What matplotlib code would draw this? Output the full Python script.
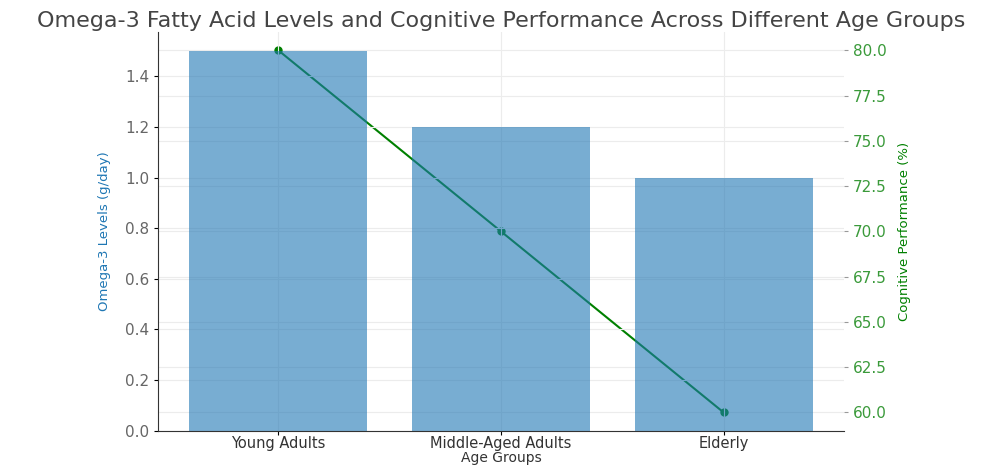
import matplotlib.pyplot as plt
import numpy as np

age_groups = ['Young Adults', 'Middle-Aged Adults', 'Elderly']
omega3_levels = [1.5, 1.2, 1.0]
cognitive_perf = [80, 70, 60]

plt.rcParams.update({'font.family': 'DejaVu Sans'})

fig = plt.figure(figsize=(9.94, 4.67), dpi=100)
ax1 = fig.add_axes([0.159, 0.078, 0.690, 0.853])
ax2 = ax1.twinx()

# line axis sits behind the bars so its grid stays under them
ax2.set_zorder(ax1.get_zorder() - 1)
ax1.patch.set_visible(False)

x = np.arange(len(age_groups))
ax1.bar(x, omega3_levels, width=0.8, color='tab:blue', alpha=0.6)
ax2.plot(x, cognitive_perf, color='green', marker='o', markersize=5, lw=1.5)

ax1.set_xticks(x)
ax1.set_xticklabels(age_groups, fontsize=10.5, color='#333333')
ax1.set_xlabel('Age Groups', fontsize=10, color='#333333', labelpad=0)
ax1.set_ylabel('Omega-3 Levels (g/day)', fontsize=9.5, color='tab:blue', labelpad=10)
ax2.set_ylabel('Cognitive Performance (%)', fontsize=9.5, color='green', labelpad=8)

ax1.set_yticks(np.arange(0, 1.41, 0.2))
ax1.tick_params(axis='y', labelsize=11, labelcolor='#666666', length=3)
ax1.tick_params(axis='x', length=3, pad=1)
ax2.set_yticks(np.arange(60, 80.1, 2.5))
ax2.tick_params(axis='y', labelsize=11, colors='#999999', length=3)
ax2.tick_params(axis='y', labelcolor='#3a9a3a')

for s in ['top', 'right']:
    ax1.spines[s].set_visible(False)
for s in ['top', 'right', 'left', 'bottom']:
    ax2.spines[s].set_visible(False)
ax1.spines['left'].set_color('#333333')
ax1.spines['bottom'].set_color('#333333')

ax1.grid(True, color='#ececec', lw=0.8)
ax1.set_axisbelow(True)
ax2.grid(True, axis='y', color='#ececec', lw=0.8)

ax1.set_title('Omega-3 Fatty Acid Levels and Cognitive Performance Across Different Age Groups',
              fontsize=16, color='#444444', pad=4)

plt.savefig('out.png', dpi=100)
